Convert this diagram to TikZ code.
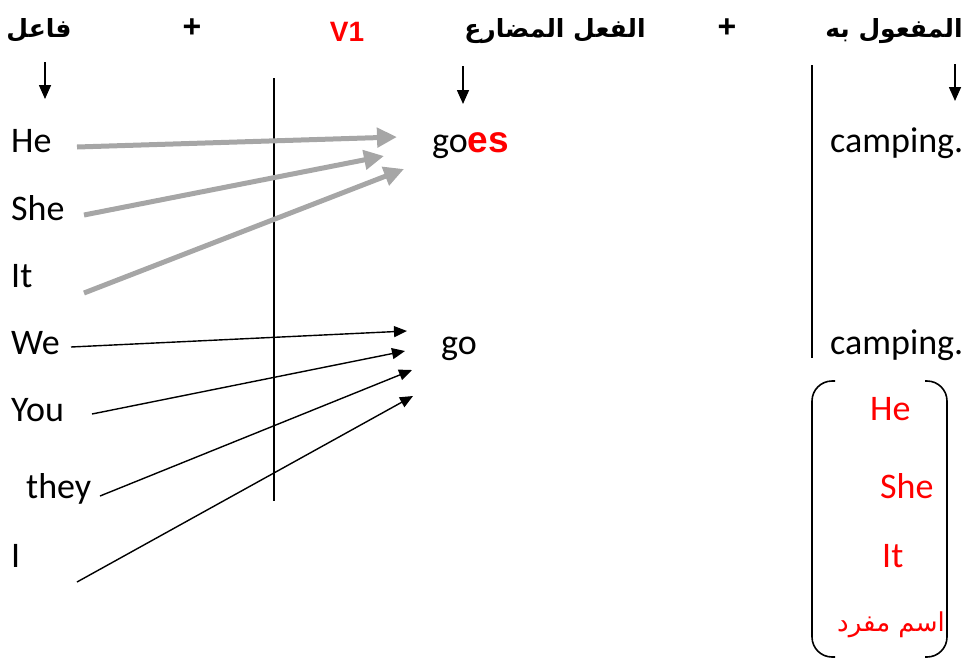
\documentclass[tikz,border=0pt]{standalone}
\usepackage{fontspec}
\setmainfont{Carlito}
\newfontfamily\arabicfont[Script=Arabic]{DejaVu Sans}
\newfontfamily\arialfont{Liberation Sans}
\TeXXeTstate=1
\usetikzlibrary{arrows.meta}
\definecolor{arrgray}{HTML}{A6A6A6}
\tikzset{
  lbl/.style={inner sep=0pt, anchor=base west, font=\fontsize{36}{40}\selectfont},
  hdr/.style={inner sep=0pt, anchor=base, font=\arabicfont\bfseries\fontsize{25}{28}\selectfont},
  plus/.style={inner sep=0pt, font=\arialfont\bfseries\fontsize{32}{34}\selectfont},
  grayarr/.style={draw=arrgray, line width=5pt, -{Triangle[length=20pt,width=19pt]}},
  blackarr/.style={draw=black, line width=1.4pt, -{Triangle[length=13pt,width=11pt]}},
  downarr/.style={draw=black, line width=1.6pt, -{Triangle[length=14pt,width=12pt]}},
  rule/.style={draw=black, line width=1.6pt},
}
\begin{document}
\begin{tikzpicture}[x=1pt,y=-1pt]
\useasboundingbox (0,0) rectangle (965,662);
% headers
\node[hdr] (fael) at (39,37) {\beginR فاعل\endR};
\node[plus] (p1) at (192,28) {+};
\node[inner sep=0pt, anchor=base, text=red, font=\arialfont\bfseries\fontsize{28}{30}\selectfont] (v1) at (347,41) {V1};
\node[hdr] (fiel) at (555,37) {\beginR الفعل المضارع\endR};
\node[plus] (p2) at (727,28) {+};
\node[hdr] (mafool) at (894,37) {\beginR المفعول به\endR};
% header arrows
\coordinate (a1s) at (45,62); \coordinate (a1e) at (45,99);
\coordinate (a2s) at (463,66); \coordinate (a2e) at (463,104);
\coordinate (a3s) at (955,64); \coordinate (a3e) at (955,101);
\draw[downarr] (a1s) -- (a1e);
\draw[downarr] (a2s) -- (a2e);
\draw[downarr] (a3s) -- (a3e);
% vertical rules
\coordinate (r1t) at (274,78); \coordinate (r1b) at (274,501);
\coordinate (r2t) at (812,65); \coordinate (r2b) at (812,358);
\draw[rule] (r1t) -- (r1b);
\draw[rule] (r2t) -- (r2b);
% subjects
\node[lbl] (he) at (11,152) {He};
\node[lbl] (she) at (11,220) {She};
\node[lbl] (it) at (11,287) {It};
\node[lbl] (we) at (11,354) {We};
\node[lbl] (you) at (11,421) {You};
\node[lbl] (they) at (26,498) {they};
\node[lbl] (i) at (11,567) {I};
% verbs
\node[lbl] (goes) at (432,152) {go\textcolor{red}{\arialfont\bfseries\fontsize{37}{40}\selectfont es}};
\node[lbl] (go) at (441,354) {go};
\node[lbl] (camp1) at (830,152) {camping.};
\node[lbl] (camp2) at (830,354) {camping.};
% gray arrows
\coordinate (hes) at (77,147); \coordinate (hee) at (397,137);
\coordinate (shes) at (84,215); \coordinate (shee) at (384,156);
\coordinate (its) at (84,293); \coordinate (ite) at (404,169);
\draw[grayarr] (hes) -- (hee);
\draw[grayarr] (shes) -- (shee);
\draw[grayarr] (its) -- (ite);
% black arrows
\coordinate (wes) at (71,347); \coordinate (wee) at (407,331);
\coordinate (yous) at (92,414); \coordinate (youe) at (405,351);
\coordinate (theys) at (100,496); \coordinate (theye) at (412,370);
\coordinate (is) at (77,582); \coordinate (ie) at (413,396);
\draw[blackarr] (wes) -- (wee);
\draw[blackarr] (yous) -- (youe);
\draw[blackarr] (theys) -- (theye);
\draw[blackarr] (is) -- (ie);
% bracket
\coordinate (lbt) at (835,381); \coordinate (lbb) at (835,657);
\coordinate (rbt) at (925,381); \coordinate (rbb) at (925,657);
\draw[line width=1.6pt, rounded corners=20pt] (lbt) -- (812,381) -- (812,657) -- (lbb);
\draw[line width=1.6pt, rounded corners=20pt] (rbt) -- (947,381) -- (947,657) -- (rbb);
\node[lbl, text=red] (bhe) at (870,420) {He};
\node[lbl, text=red] (bshe) at (880,498) {She};
\node[lbl, text=red] (bit) at (882,567) {It};
\node[inner sep=0pt, anchor=base, text=red, font=\arabicfont\fontsize{26}{28}\selectfont] (ism) at (891,631) {\beginR اسم مفرد\endR};
\end{tikzpicture}
\end{document}
